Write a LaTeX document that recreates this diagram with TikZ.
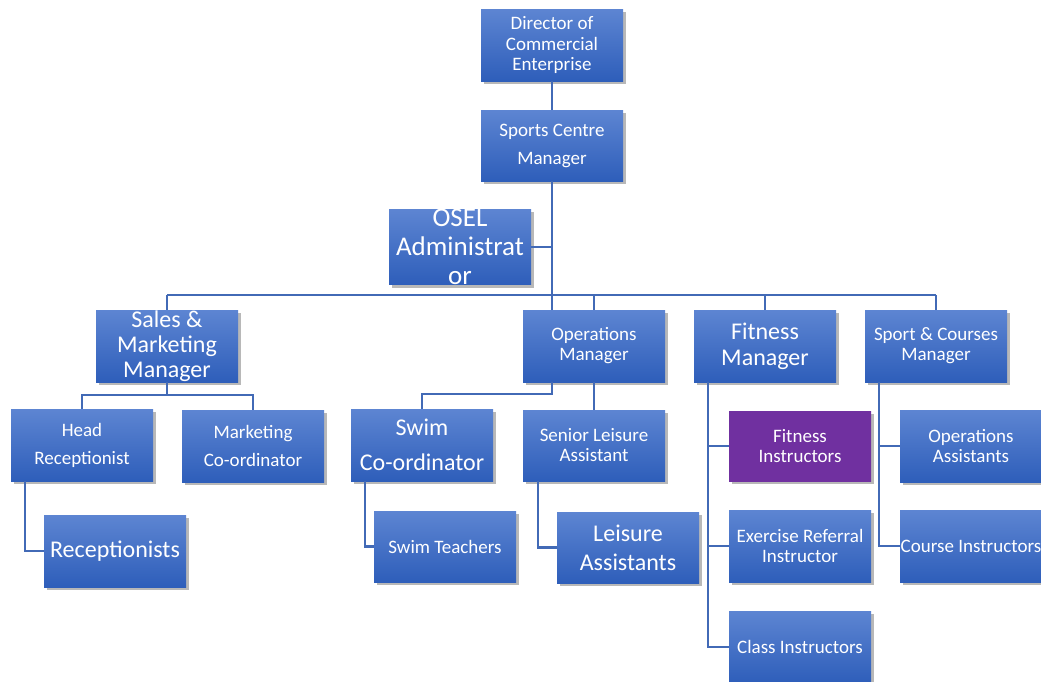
\documentclass[tikz,border=0pt]{standalone}
\usepackage{fontspec}
\setmainfont{Carlito}
\usetikzlibrary{shadows}
\definecolor{boxtop}{RGB}{93,133,210}
\definecolor{boxbot}{RGB}{46,94,186}
\definecolor{linecol}{RGB}{66,106,182}
\definecolor{purp}{RGB}{112,48,160}
\tikzset{
  box/.style={minimum width=142pt, minimum height=72pt, anchor=north west, inner sep=0pt, outer sep=0pt,
    text=white, align=center, top color=boxtop, bottom color=boxbot,
    drop shadow={shadow xshift=3pt, shadow yshift=-3pt, opacity=0.28, fill=black}},
  pbox/.style={box, top color=purp, bottom color=purp},
  fs/.style 2 args={font=\fontsize{#1}{#2}\selectfont},
  conn/.style={draw=linecol, line width=2.2pt}
}
\begin{document}
\begin{tikzpicture}[x=1pt, y=-1pt]
\useasboundingbox (0,0) rectangle (1041,681);
\fill[white] (0,0) rectangle (1041,681);
% nodes
\node[box, fs={19}{20.5}] (dir) at (481,9) {Director of\\Commercial\\Enterprise};
\node[box, fs={19}{28}, minimum height=71pt] (scm) at (481,110) {Sports Centre\\Manager};
\node[box, fs={27}{29}] (osel) at (389,209) {OSEL\\Administrat\\or};
\node[box, fs={24}{25}] (sales) at (96,310) {Sales \&\\Marketing\\Manager};
\node[box, fs={19}{20}] (ops) at (523,310) {Operations\\Manager};
\node[box, fs={24}{26}] (fitm) at (694,310) {Fitness\\Manager};
\node[box, fs={19}{20}] (sport) at (865,310) {Sport \& Courses\\Manager};
\node[box, fs={19}{28}] (head) at (11,409) {Head\\Receptionist};
\node[box, fs={19}{28}] (mkt) at (182,410) {Marketing\\Co-ordinator};
\node[box, fs={24}{35}] (swim) at (351,409) {Swim\\Co-ordinator};
\node[box, fs={19}{20}, minimum height=71pt] (senior) at (523,410) {Senior Leisure\\Assistant};
\node[pbox, fs={19}{20}, minimum height=70pt] (fitI) at (729,411) {Fitness\\Instructors};
\node[box, fs={19}{20}] (opsA) at (900,410) {Operations\\Assistants};
\node[box, fs={24}{29}] (recep) at (44,515) {Receptionists};
\node[box, fs={19}{20}, minimum height=71pt] (swimT) at (374,511) {Swim Teachers};
\node[box, fs={24}{29}, minimum height=71pt] (leis) at (557,512) {Leisure\\Assistants};
\node[box, fs={19}{20}] (exer) at (729,510) {Exercise Referral\\Instructor};
\node[box, fs={19}{20}] (course) at (900,510) {Course Instructors};
\node[box, fs={19}{20}, minimum height=72pt] (class) at (729,611) {Class Instructors};
% connectors
\coordinate (bus) at (0,295);
\draw[conn] (dir.south) -- (scm.north);
\draw[conn] (scm.south) -- (scm.south |- ops.north);
\draw[conn] (osel.east) -- (osel.east -| scm.south);
\draw[conn] (sales.north |- bus) -- (sport.north |- bus);
\draw[conn] (sales.north |- bus) -- (sales.north);
\draw[conn] (ops.north |- bus) -- (ops.north);
\draw[conn] (fitm.north |- bus) -- (fitm.north);
\draw[conn] (sport.north |- bus) -- (sport.north);
% sales
\draw[conn] (sales.south) -- ++(0,13) -| (head.north);
\draw[conn] (sales.south) -- ++(0,13) -| (mkt.north);
\draw[conn] ([xshift=-57pt]head.south) |- (recep.west);
% operations
\draw[conn] (scm.south |- ops.south) -- ++(0,12) -| (swim.north);
\draw[conn] (ops.south) -- (senior.north);
\draw[conn] ([xshift=-57pt]swim.south) |- (swimT.west);
\draw[conn] ([xshift=-56pt]senior.south) |- (leis.west);
% fitness
\draw[conn] ([xshift=-57pt]fitm.south) |- (class.west);
\draw[conn] ([xshift=-57pt]fitm.south) |- (fitI.west);
\draw[conn] ([xshift=-57pt]fitm.south) |- (exer.west);
% sport
\draw[conn] ([xshift=-57pt]sport.south) |- (course.west);
\draw[conn] ([xshift=-57pt]sport.south) |- (opsA.west);
\end{tikzpicture}
\end{document}
